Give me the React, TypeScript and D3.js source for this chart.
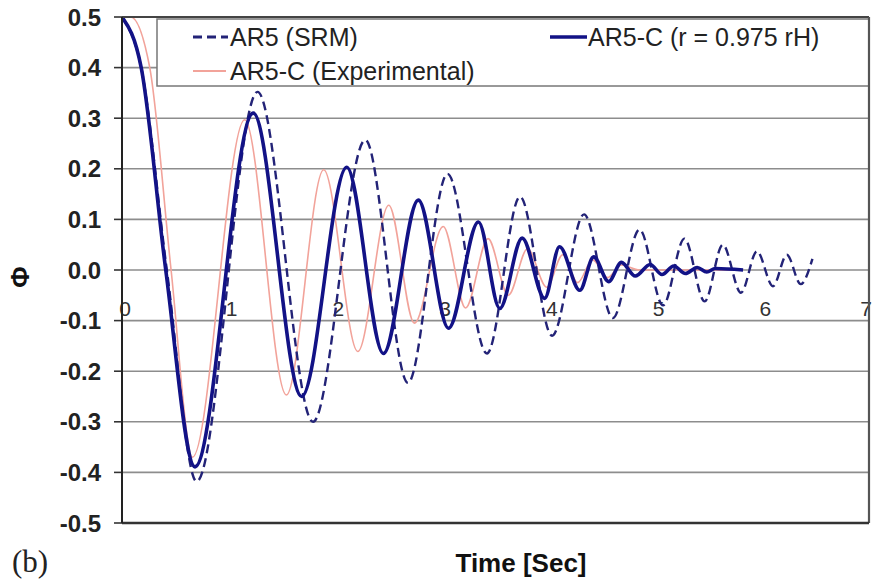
import React from "react";
import * as d3 from "d3";

// ---------- data ----------
const xTicks = [0, 1, 2, 3, 4, 5, 6, 7];
const yTicks = [0.5, 0.4, 0.3, 0.2, 0.1, 0.0, -0.1, -0.2, -0.3, -0.4, -0.5];

// AR5 (SRM) – dashed
const srmTime = [0, 0.18, 0.42, 0.7, 1.27, 1.79, 2.28, 2.68, 3.05, 3.42, 3.73, 4.03, 4.33, 4.6, 4.85, 5.07, 5.27, 5.46, 5.63, 5.8, 5.95, 6.1, 6.23, 6.36, 6.47];
const srmPhi = [0.5, 0.4, 0, -0.418, 0.352, -0.3, 0.257, -0.223, 0.19, -0.165, 0.145, -0.13, 0.11, -0.095, 0.08, -0.07, 0.062, -0.062, 0.05, -0.045, 0.037, -0.032, 0.03, -0.028, 0.022];

// AR5-C (r = 0.975 rH) – thick solid
const rTime = [0, 0.18, 0.41, 0.684, 1.23, 1.684, 2.106, 2.45, 2.777, 3.06, 3.34, 3.54, 3.75, 3.96, 4.1, 4.29, 4.42, 4.56, 4.68, 4.81, 4.95, 5.06, 5.17, 5.28, 5.39, 5.48, 5.56, 5.82];
const rPhi = [0.5, 0.4, 0, -0.389, 0.31, -0.25, 0.203, -0.165, 0.138, -0.115, 0.095, -0.076, 0.063, -0.056, 0.046, -0.04, 0.026, -0.023, 0.015, -0.012, 0.011, -0.009, 0.008, -0.007, 0.005, -0.004, 0.003, 0];

// AR5-C (Experimental) – thin pink
const expTime = [0, 0.08, 0.26, 0.46, 0.66, 1.15, 1.54, 1.89, 2.21, 2.5, 2.74, 3.01, 3.22, 3.43, 3.62, 3.8, 3.98, 4.13, 4.27, 4.41, 4.55, 4.68, 4.85, 5.75];
const expPhi = [0.5, 0.5, 0.4, 0, -0.37, 0.297, -0.247, 0.198, -0.161, 0.128, -0.105, 0.086, -0.075, 0.062, -0.05, 0.042, -0.034, 0.03, -0.025, 0.02, -0.015, 0.01, 0, 0];

const W = 874;
const H = 584;
const PL = 122, PR = 869, PT = 17, PB = 523;

const NAVY = "#121286";
const DASH = "#232377";
const PINK = "#f2a39a";
const GRID = "#8d8d8d";

export default function App() {
  const x = d3.scaleLinear().domain([0, 7]).range([PL, PR]);
  const y = d3.scaleLinear().domain([-0.5, 0.5]).range([PB, PT]);
  const line = d3
    .line<[number, number]>()
    .x((d) => x(d[0]))
    .y((d) => y(d[1]))
    .curve(d3.curveMonotoneX);

  const zip = (a: number[], b: number[]) => a.map((t, i) => [t, b[i]] as [number, number]);
  const srm = line(zip(srmTime, srmPhi)) || "";
  const rr = line(zip(rTime, rPhi)) || "";
  const ex = line(zip(expTime, expPhi)) || "";

  const font = "Liberation Sans, Arial, sans-serif";

  return (
    <svg
      width={W}
      height={H}
      viewBox={`0 0 ${W} ${H}`}
      style={{ position: "absolute", left: 0, top: 0, background: "#fff" }}
    >
      <defs>
        <clipPath id="plotclip">
          <rect x={PL} y={PT} width={PR - PL} height={PB - PT} />
        </clipPath>
      </defs>
      <rect x={0} y={0} width={W} height={H} fill="#fff" />

      {/* grid lines */}
      {yTicks.map((v) => (
        <line key={"g" + v} x1={PL} x2={PR} y1={y(v)} y2={y(v)} stroke={GRID} strokeWidth={1.6} />
      ))}

      {/* y ticks & labels */}
      {yTicks.map((v) => (
        <g key={"t" + v}>
          <line x1={PL - 8} x2={PL} y1={y(v)} y2={y(v)} stroke="#333" strokeWidth={1.6} />
          <text
            x={101}
            y={y(v) + 8.5}
            textAnchor="end"
            fontFamily={font}
            fontWeight="bold"
            fontSize={24}
            fill="#222"
          >
            {v.toFixed(1)}
          </text>
        </g>
      ))}

      {/* x tick labels */}
      {xTicks.map((v) => (
        <text
          key={"x" + v}
          x={Math.min(x(v) + 3, 866)}
          y={316}
          textAnchor="middle"
          fontFamily={font}
          fontSize={21}
          fill="#333"
        >
          {v}
        </text>
      ))}

      {/* series */}
      <g clipPath="url(#plotclip)" fill="none">
        <path d={ex} stroke={PINK} strokeWidth={1.6} />
        <path d={srm} stroke={DASH} strokeWidth={2.4} strokeDasharray="9,5" />
        <path d={rr} stroke={NAVY} strokeWidth={3.6} />
      </g>

      {/* legend */}
      <rect x={157} y={19} width={PR - 157} height={67} fill="#fff" stroke="#777" strokeWidth={1.5} />
      <line x1={193} x2={228} y1={37} y2={37} stroke={DASH} strokeWidth={3} strokeDasharray="9,5" />
      <text x={230} y={46} fontFamily={font} fontSize={25} fill="#222">AR5 (SRM)</text>
      <line x1={550} x2={587} y1={37} y2={37} stroke={NAVY} strokeWidth={3.6} />
      <text x={588} y={46} fontFamily={font} fontSize={25} fill="#222">AR5-C (r = 0.975 rH)</text>
      <line x1={193} x2={226} y1={71} y2={71} stroke={PINK} strokeWidth={2} />
      <text x={230} y={80} fontFamily={font} fontSize={25} fill="#222">AR5-C (Experimental)</text>

      {/* plot frame */}
      <line x1={PL} x2={PR} y1={PT} y2={PT} stroke="#444" strokeWidth={2.2} />
      <line x1={PR} x2={PR} y1={PT} y2={PB} stroke="#555" strokeWidth={2.2} />
      <line x1={PL} x2={PR} y1={PB} y2={PB} stroke="#333" strokeWidth={2.4} />
      <line x1={PL} x2={PL} y1={PT} y2={PB} stroke="#222" strokeWidth={2} />

      {/* axis titles */}
      <text
        x={521}
        y={572}
        textAnchor="middle"
        fontFamily={font}
        fontWeight="bold"
        fontSize={26}
        fill="#111"
      >
        Time [Sec]
      </text>
      <text
        transform={`translate(29,277) rotate(-90)`}
        textAnchor="middle"
        fontFamily={font}
        fontWeight="bold"
        fontSize={26}
        fill="#111"
      >
        Φ
      </text>
      <text x={12} y={572} fontFamily="Liberation Serif, Times New Roman, serif" fontSize={31} fill="#222">
        (b)
      </text>
    </svg>
  );
}
